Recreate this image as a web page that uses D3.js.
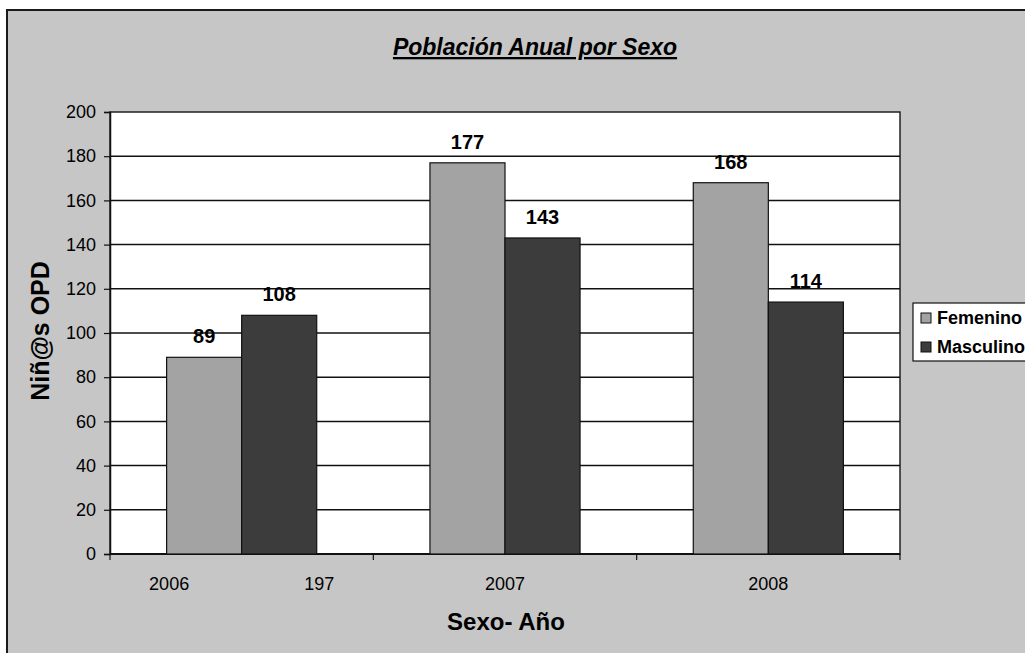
<!DOCTYPE html>
<html>
<head>
<meta charset="utf-8">
<script src="https://cdn.jsdelivr.net/npm/d3@7"></script>
<style>
  html, body { margin: 0; padding: 0; background: #ffffff; }
  svg { display: block; }
  text { font-family: "Liberation Sans", Arial, sans-serif; fill: #000; }
</style>
</head>
<body>
<svg id="chart" width="1025" height="653"></svg>
<script>
// Data
const categories = ["2006", "2007", "2008"];
const tickLabels = ["2006                       197", "2007", "2008"];
const seriesNames = ["Femenino", "Masculino"];
const femenino = [89, 177, 168];
const masculino = [108, 143, 114];
const yTicks = [0, 20, 40, 60, 80, 100, 120, 140, 160, 180, 200];

const seriesValues = [femenino, masculino];
const seriesColors = { Femenino: "#a3a3a3", Masculino: "#3c3c3c" };

const svg = d3.select("#chart");
const W = 1025, H = 653;
const plot = { left: 110, right: 900, top: 112, bottom: 554 };

// Chart area with frame
svg.append("rect")
  .attr("x", 7).attr("y", 10)
  .attr("width", W + 10).attr("height", H + 10)
  .attr("fill", "#c6c6c6")
  .attr("stroke", "#1a1a1a").attr("stroke-width", 2);

// Scales
const y = d3.scaleLinear().domain([0, 200]).range([plot.bottom, plot.top]);
const x0 = d3.scaleBand().domain(categories)
  .range([plot.left, plot.right])
  .paddingInner(0.43).paddingOuter(0.215);
const x1 = d3.scaleBand().domain(seriesNames).range([0, x0.bandwidth()]);

// Plot area
svg.append("rect")
  .attr("x", plot.left).attr("y", plot.top)
  .attr("width", plot.right - plot.left).attr("height", plot.bottom - plot.top)
  .attr("fill", "#ffffff")
  .attr("stroke", "#222").attr("stroke-width", 1.5);

// Gridlines
svg.append("g").selectAll("line")
  .data(yTicks.filter(d => d > 0 && d < 200))
  .join("line")
  .attr("x1", plot.left).attr("x2", plot.right)
  .attr("y1", d => y(d)).attr("y2", d => y(d))
  .attr("stroke", "#111").attr("stroke-width", 1.5);

// Y axis
const yAxis = svg.append("g")
  .attr("transform", `translate(${plot.left},0)`)
  .call(d3.axisLeft(y).tickValues(yTicks).tickSize(6).tickPadding(8));
yAxis.select(".domain").attr("stroke", "#111").attr("stroke-width", 1.5);
yAxis.selectAll(".tick line").attr("stroke", "#111").attr("stroke-width", 1.2);
yAxis.selectAll(".tick text")
  .style("font-family", "'Liberation Sans', Arial, sans-serif")
  .style("font-size", "18px").attr("fill", "#000");

// X axis: line, ticks at category boundaries, labels
const step = x0.step();
const boundaries = [plot.left].concat(categories.map(c => x0(c) + x0.bandwidth() / 2 + step / 2));
const xAxis = svg.append("g");
xAxis.append("line")
  .attr("x1", plot.left).attr("x2", plot.right)
  .attr("y1", plot.bottom).attr("y2", plot.bottom)
  .attr("stroke", "#111").attr("stroke-width", 2);
xAxis.selectAll("line.tk").data(boundaries).join("line")
  .attr("class", "tk")
  .attr("x1", d => d).attr("x2", d => d)
  .attr("y1", plot.bottom).attr("y2", plot.bottom + 6)
  .attr("stroke", "#111").attr("stroke-width", 1.2);
xAxis.selectAll("text").data(categories).join("text")
  .attr("x", d => x0(d) + x0.bandwidth() / 2)
  .attr("y", 590)
  .attr("text-anchor", "middle")
  .style("white-space", "pre")
  .style("font-size", "18px")
  .text((d, i) => tickLabels[i]);

// Bars
const groups = svg.append("g").selectAll("g")
  .data(categories).join("g")
  .attr("transform", d => `translate(${x0(d)},0)`);

groups.selectAll("rect")
  .data((d, i) => seriesNames.map((s, k) => ({ s, v: seriesValues[k][i] })))
  .join("rect")
  .attr("x", d => x1(d.s))
  .attr("y", d => y(d.v))
  .attr("width", x1.bandwidth())
  .attr("height", d => y(0) - y(d.v))
  .attr("fill", d => seriesColors[d.s])
  .attr("stroke", "#111").attr("stroke-width", 1.2);

// Value labels
groups.selectAll("text")
  .data((d, i) => seriesNames.map((s, k) => ({ s, v: seriesValues[k][i] })))
  .join("text")
  .attr("x", d => x1(d.s) + x1.bandwidth() / 2)
  .attr("y", d => y(d.v) - 14)
  .attr("text-anchor", "middle")
  .style("font-size", "20px").style("font-weight", "bold")
  .text(d => d.v);

// Title
svg.append("text")
  .attr("x", 535).attr("y", 55)
  .attr("text-anchor", "middle")
  .style("font-size", "23px").style("font-weight", "bold").style("font-style", "italic")
  .style("text-decoration", "underline")
  .text("Población Anual por Sexo");

// Axis titles
svg.append("text")
  .attr("x", 506).attr("y", 630)
  .attr("text-anchor", "middle")
  .style("font-size", "24px").style("font-weight", "bold")
  .text("Sexo- Año");

svg.append("text")
  .attr("transform", "translate(49,331) rotate(-90)")
  .attr("text-anchor", "middle")
  .style("font-size", "25px").style("font-weight", "bold")
  .text("Niñ@s OPD");

// Legend
const legend = svg.append("g").attr("transform", "translate(913,303)");
legend.append("rect")
  .attr("x", 0).attr("y", 0).attr("width", 130).attr("height", 58)
  .attr("fill", "#ffffff").attr("stroke", "#111").attr("stroke-width", 1.2);
const li = legend.selectAll("g.item").data(seriesNames).join("g")
  .attr("class", "item")
  .attr("transform", (d, i) => `translate(8,${15 + i * 29})`);
li.append("rect")
  .attr("x", 0).attr("y", -5).attr("width", 10).attr("height", 10)
  .attr("fill", d => seriesColors[d]).attr("stroke", "#111").attr("stroke-width", 1);
li.append("text")
  .attr("x", 16).attr("y", 0).attr("dy", "0.36em")
  .style("font-size", "18px").style("font-weight", "bold")
  .text(d => d);
</script>
</body>
</html>
